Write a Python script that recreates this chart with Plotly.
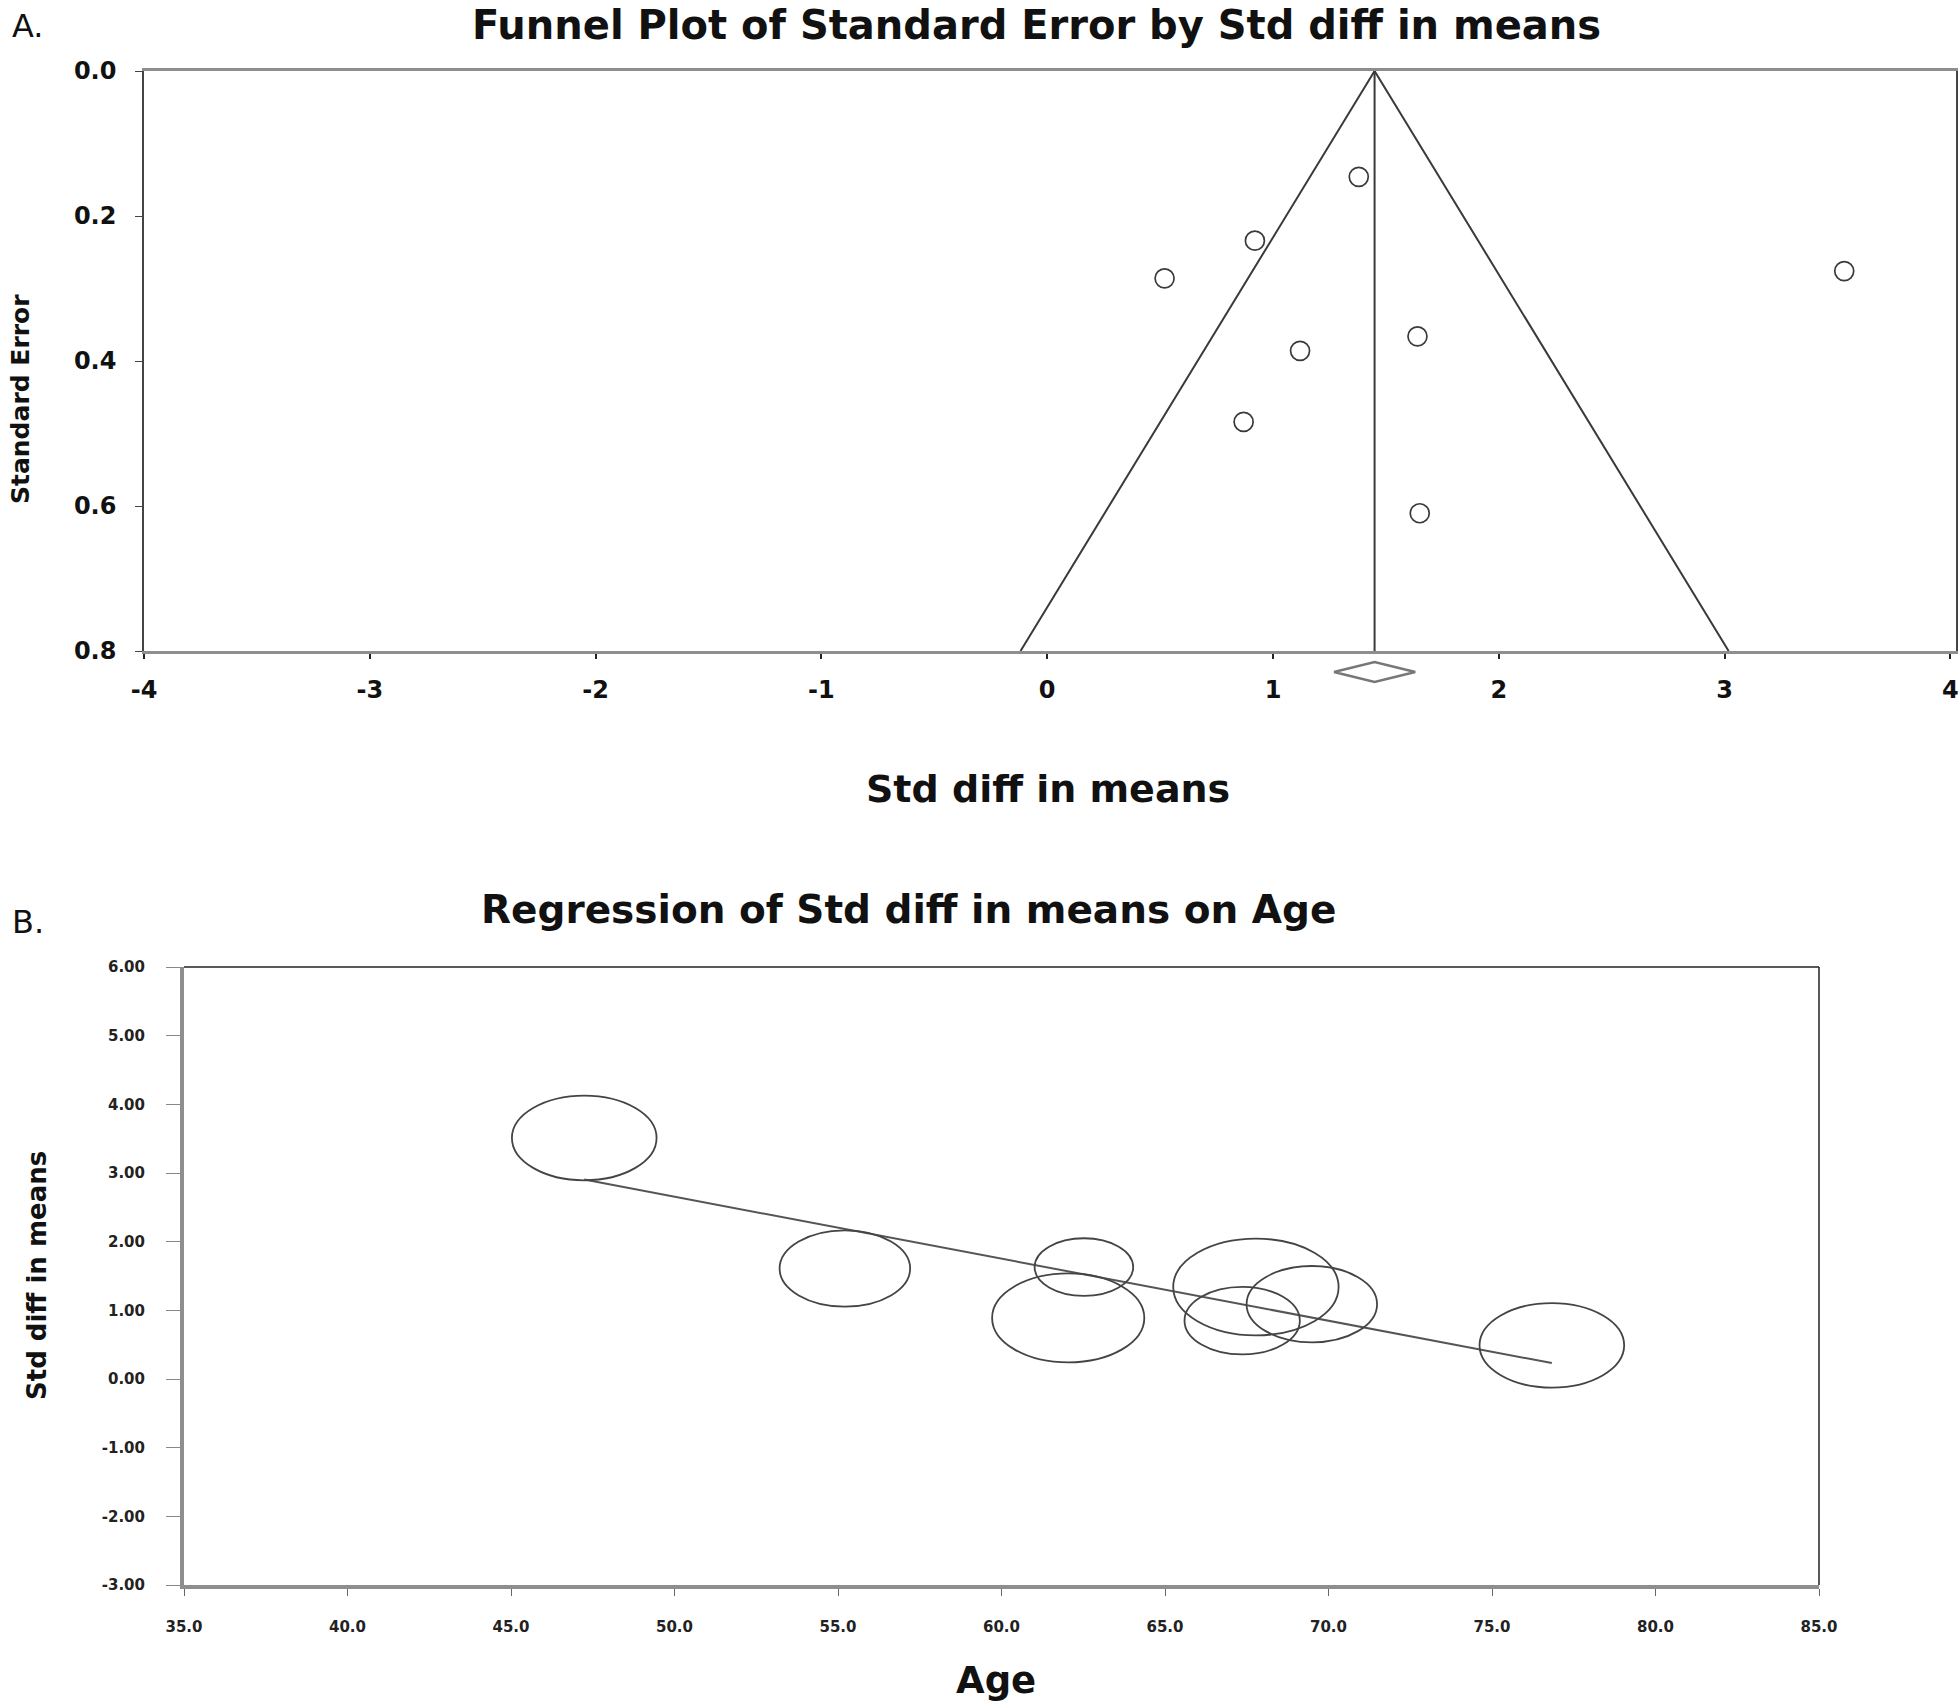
import numpy as np
import plotly.graph_objects as go

W, H = 1960, 1704

# ---- panel A: funnel plot data
se = [0.146, 0.234, 0.286, 0.276, 0.366, 0.386, 0.484, 0.610]
smd = [1.38, 0.92, 0.52, 3.53, 1.64, 1.12, 0.87, 1.65]
pooled = 1.45
pooled_ci = [1.27, 1.63]
se_max = 0.8

a_xticks = [-4, -3, -2, -1, 0, 1, 2, 3, 4]
a_yticks = [0.0, 0.2, 0.4, 0.6, 0.8]

# ---- panel B: regression on age
age = [47.24, 55.21, 62.52, 62.04, 67.78, 67.36, 69.49, 76.83]
age_smd = [3.51, 1.61, 1.63, 0.89, 1.34, 0.85, 1.09, 0.49]
weight = [14.0, 11.4, 6.5, 15.5, 18.3, 8.9, 11.4, 14.0]
reg_intercept = 7.17
reg_slope = -0.0903

b_xticks = [35, 40, 45, 50, 55, 60, 65, 70, 75, 80, 85]
b_yticks = [-3, -2, -1, 0, 1, 2, 3, 4, 5, 6]

FONT = "DejaVu Sans"
INK = "#3a3a3a"
AXGRAY = "#8e8e8e"

def px(x):
    return x / W

def py(y):
    return 1 - y / H

domA_x = [px(144), px(1956)]
domA_y = [py(651), py(71)]
domD_y = [py(688), py(656)]
domB_x = [px(184), px(1819)]
domB_y = [py(1585), py(967)]

fig = go.Figure()

# funnel (pseudo 95% limits)
fig.add_trace(go.Scatter(
    x=[pooled - 1.96 * se_max, pooled, pooled + 1.96 * se_max],
    y=[se_max, 0, se_max], mode="lines",
    line=dict(color=INK, width=2), xaxis="x", yaxis="y", showlegend=False))
fig.add_trace(go.Scatter(
    x=[pooled, pooled], y=[0, se_max], mode="lines",
    line=dict(color=INK, width=2), xaxis="x", yaxis="y", showlegend=False))
fig.add_trace(go.Scatter(
    x=smd, y=se, mode="markers",
    marker=dict(symbol="circle-open", size=19, color=INK, line=dict(width=1.7)),
    xaxis="x", yaxis="y", showlegend=False))

# pooled estimate diamond, below the axis
fig.add_trace(go.Scatter(
    x=[pooled_ci[0], pooled, pooled_ci[1], pooled, pooled_ci[0]],
    y=[0, 1, 0, -1, 0], mode="lines",
    line=dict(color="#777777", width=2.5), xaxis="x3", yaxis="y3", showlegend=False))

# regression line
ages_line = [min(age), max(age)]
fig.add_trace(go.Scatter(
    x=ages_line, y=[reg_intercept + reg_slope * a for a in ages_line], mode="lines",
    line=dict(color="#555555", width=2), xaxis="x2", yaxis="y2", showlegend=False))

# bubbles (ellipses, area ~ weight)
px_per_year = (domB_x[1] - domB_x[0]) * W / (85 - 35)
px_per_smd = (domB_y[1] - domB_y[0]) * H / (6 - (-3))
k = 19.33
aspect = 1.71
shapes = []
for a, s, w in zip(age, age_smd, weight):
    rx = k * np.sqrt(w) / px_per_year
    ry = k * np.sqrt(w) / aspect / px_per_smd
    shapes.append(dict(type="circle", xref="x2", yref="y2",
                       x0=a - rx, x1=a + rx, y0=s - ry, y1=s + ry,
                       line=dict(color="#444444", width=1.8), layer="above"))

# thin top / right border of panel B
shapes.append(dict(type="line", xref="x2 domain", yref="y2 domain", x0=0, x1=1, y0=1, y1=1,
                   line=dict(color="#222222", width=1.5)))
shapes.append(dict(type="line", xref="x2 domain", yref="y2 domain", x0=1, x1=1, y0=0, y1=1,
                   line=dict(color="#222222", width=1.5)))

tick_a = dict(family=FONT, size=24, color="#111111", weight="bold")
tick_b = dict(family=FONT, size=15, color="#222222", weight="bold")

fig.update_layout(
    width=W, height=H, autosize=False,
    margin=dict(l=0, r=0, t=0, b=0, pad=0),
    paper_bgcolor="white", plot_bgcolor="white",
    shapes=shapes,
    xaxis=dict(domain=domA_x, range=[-4, 4.025], anchor="y", automargin=False,
               showline=True, mirror=True, linecolor=AXGRAY, linewidth=3,
               ticks="outside", ticklen=5, tickwidth=2, tickcolor="#222222",
               tickvals=a_xticks, ticktext=[str(v) for v in a_xticks],
               tickfont=tick_a, ticklabelstandoff=10,
               showgrid=False, zeroline=False),
    yaxis=dict(domain=domA_y, range=[se_max, 0], anchor="x", automargin=False,
               showline=True, mirror=True, linecolor="#444444", linewidth=1.5,
               ticks="outside", ticklen=7, tickcolor="#444444",
               tickvals=a_yticks, ticktext=[f"{v:.1f}" for v in a_yticks],
               tickfont=tick_a, ticklabelstandoff=14,
               showgrid=False, zeroline=False),
    xaxis3=dict(domain=domA_x, matches="x", anchor="y3", visible=False, automargin=False),
    yaxis3=dict(domain=domD_y, range=[-1.6, 1.6], anchor="x3", visible=False, automargin=False),
    xaxis2=dict(domain=domB_x, range=[35, 85], anchor="y2", automargin=False,
                showline=True, linecolor=AXGRAY, linewidth=4,
                ticks="outside", ticklen=7, tickcolor="#666666",
                tickvals=b_xticks, ticktext=[f"{v:.1f}" for v in b_xticks],
                tickfont=tick_b, ticklabelstandoff=18,
                showgrid=False, zeroline=False),
    yaxis2=dict(domain=domB_y, range=[-3, 6], anchor="x2", automargin=False,
                showline=True, linecolor=AXGRAY, linewidth=4,
                ticks="outside", ticklen=14, tickcolor="#888888",
                tickvals=b_yticks, ticktext=[f"{v:.2f}" for v in b_yticks],
                tickfont=tick_b, ticklabelstandoff=18,
                showgrid=False, zeroline=False),
)

def label(text, x, y, size, bold=True, angle=0, yanchor="middle"):
    fig.add_annotation(text=f"<b>{text}</b>" if bold else text,
                       x=px(x), y=py(y), xref="paper", yref="paper",
                       xanchor="center", yanchor=yanchor, showarrow=False,
                       textangle=angle,
                       font=dict(family=FONT, size=size, color="#111111"))

label("Funnel Plot of Standard Error by Std diff in means", 1036, 0, 40, yanchor="top")
label("Std diff in means", 1048, 789, 38)
label("Standard Error", 21, 399, 25, angle=-90)
label("Regression of Std diff in means on Age", 908, 909, 39)
label("Age", 996, 1704, 37, yanchor="bottom")
label("Std diff in means", 37, 1276, 26, angle=-90)
label("A.", 28, 26, 32, bold=False)
label("B.", 28, 922, 32, bold=False)

# plotly's page keeps the browser's default 8px body margin; drop it
fig.write_html("out.html", config={"displayModeBar": False},
               post_script="document.body.style.margin='0px';")
